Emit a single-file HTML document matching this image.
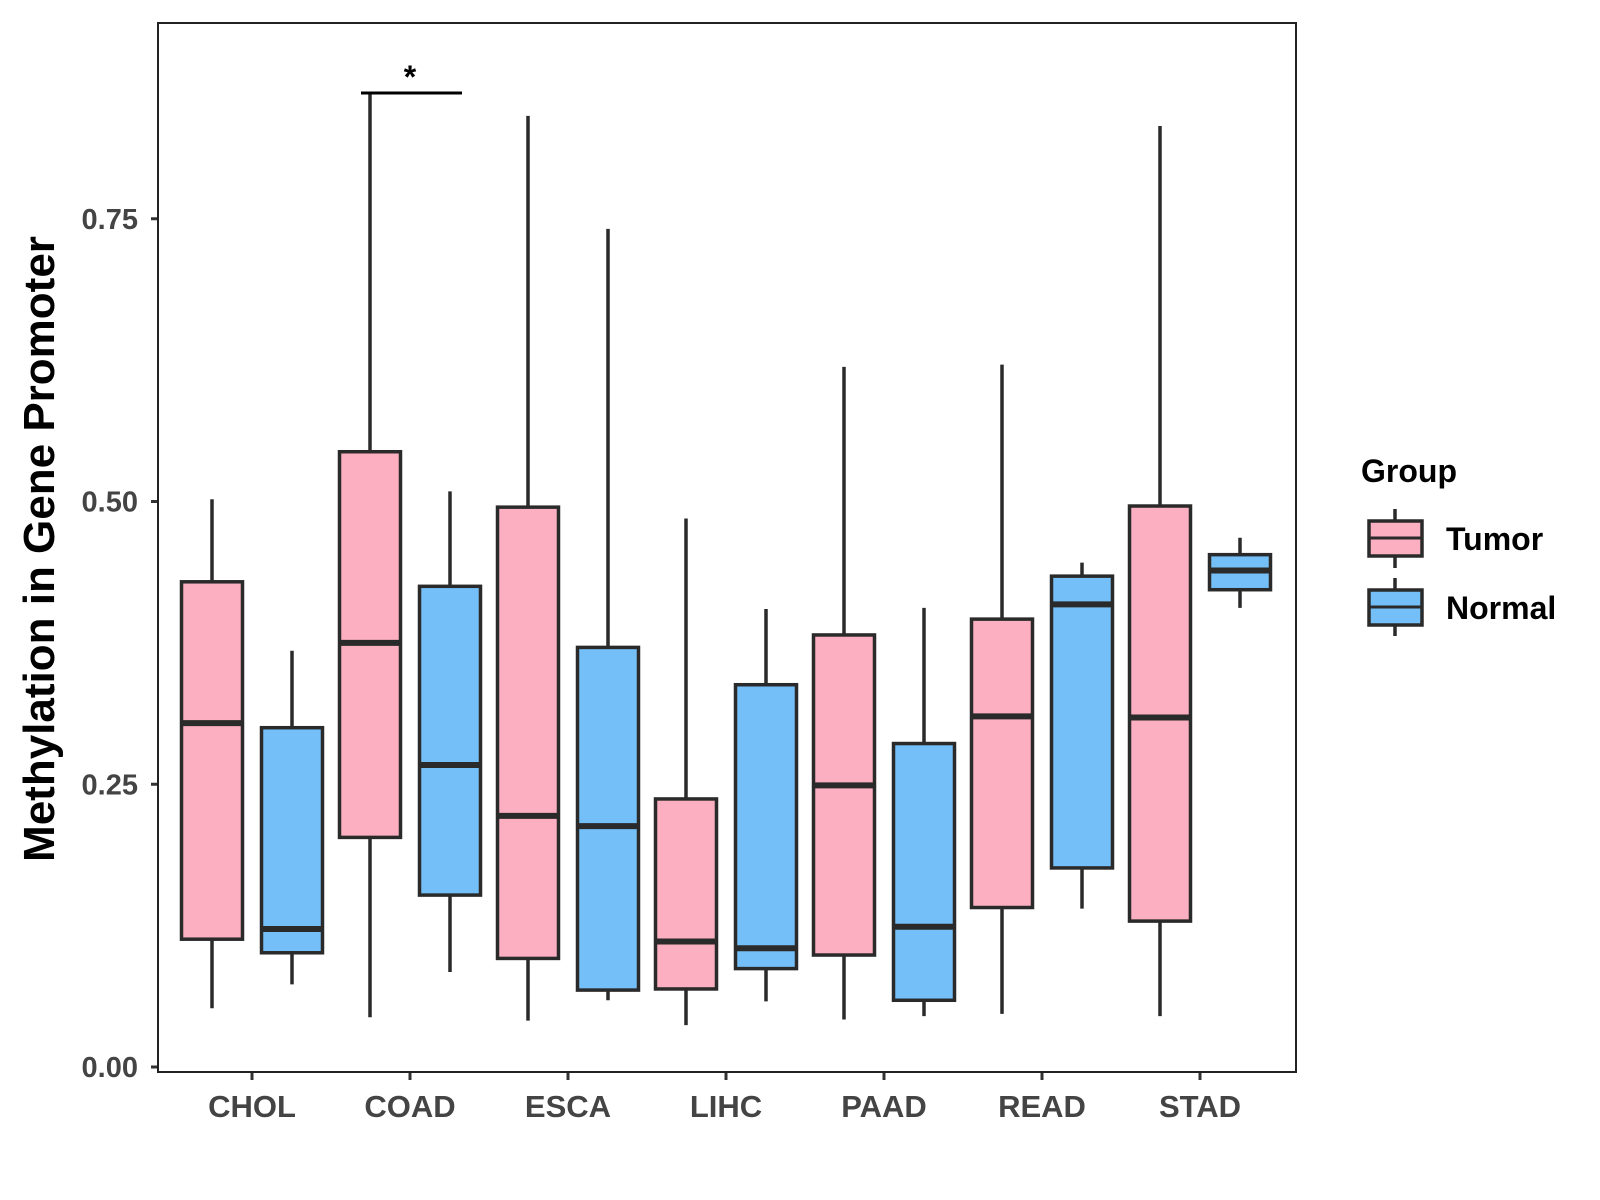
<!DOCTYPE html>
<html><head><meta charset="utf-8"><style>
html,body{margin:0;padding:0;background:#fff;}
svg{display:block;font-family:"Liberation Sans",Arial,sans-serif;}
</style></head><body>
<svg id="chart" width="1600" height="1200" viewBox="0 0 1600 1200">
<rect x="0" y="0" width="1600" height="1200" fill="#fff"/>
<g id="plot"></g>
<rect x="158" y="23" width="1138" height="1049" fill="none" stroke="#222" stroke-width="2"/>
<text transform="translate(54,549) rotate(-90)" text-anchor="middle" font-size="44" font-weight="bold" fill="#000">Methylation in Gene Promoter</text>
<g transform="translate(-7,0)">
<text x="1368" y="482" font-size="32" font-weight="bold" fill="#000">Group</text>
<g>
<line x1="1402" y1="509" x2="1402" y2="568" stroke="#2a2a2a" stroke-width="3.5"/>
<rect x="1376" y="521" width="53" height="35" fill="#FBAFC0" stroke="#2a2a2a" stroke-width="3.5"/>
<line x1="1376" y1="538" x2="1429" y2="538" stroke="#2a2a2a" stroke-width="3"/>
<text x="1453" y="550" font-size="32" font-weight="bold" fill="#000">Tumor</text>
</g>
<g>
<line x1="1402" y1="578" x2="1402" y2="636" stroke="#2a2a2a" stroke-width="3.5"/>
<rect x="1376" y="590" width="53" height="35" fill="#74BFF7" stroke="#2a2a2a" stroke-width="3.5"/>
<line x1="1376" y1="607" x2="1429" y2="607" stroke="#2a2a2a" stroke-width="3"/>
<text x="1453" y="619" font-size="32" font-weight="bold" fill="#000">Normal</text>
</g>
</g>
<g>
<line x1="361" y1="93" x2="462" y2="93" stroke="#000" stroke-width="3"/>
<text x="410" y="88" text-anchor="middle" font-size="32" font-weight="bold" fill="#000">*</text>
</g>
</svg>
<script>
const categories = ["CHOL","COAD","ESCA","LIHC","PAAD","READ","STAD"];
const yTicks = [0, 0.25, 0.5, 0.75];
const yTickLabels = ["0.00","0.25","0.50","0.75"];
// [lower whisker, q1, median, q3, upper whisker]
const tumorStats = [
  [0.052,0.113,0.304,0.429,0.502],
  [0.044,0.203,0.375,0.544,0.860],
  [0.041,0.096,0.222,0.495,0.841],
  [0.037,0.069,0.111,0.237,0.485],
  [0.042,0.099,0.249,0.382,0.619],
  [0.047,0.141,0.310,0.396,0.621],
  [0.045,0.129,0.309,0.496,0.832]
];
const normalStats = [
  [0.073,0.101,0.122,0.300,0.368],
  [0.084,0.152,0.267,0.425,0.509],
  [0.059,0.068,0.213,0.371,0.741],
  [0.058,0.087,0.105,0.338,0.405],
  [0.045,0.059,0.124,0.286,0.406],
  [0.140,0.176,0.409,0.434,0.446],
  [0.406,0.422,0.439,0.453,0.468]
];
const NS="http://www.w3.org/2000/svg";
const plot=document.getElementById('plot');
function y(v){return 1067-1131*v;}
function x(i){return 252+158*i;}
function mk(tag,attrs,parent){const e=document.createElementNS(NS,tag);for(const k in attrs)e.setAttribute(k,attrs[k]);(parent||plot).appendChild(e);return e;}
yTicks.forEach((t,i)=>{
  const g=mk('g',{});
  
  
  mk('line',{x1:151,x2:158,y1:y(t),y2:y(t),stroke:'#333','stroke-width':3},g);
  const tx=mk('text',{x:138,y:y(t)+10,'text-anchor':'end','font-size':29,'font-weight':'bold',fill:'#444'},g);
  tx.textContent=yTickLabels[i];
});
categories.forEach((c,i)=>{
  const g=mk('g',{});
  
  
  mk('line',{x1:x(i),x2:x(i),y1:1072,y2:1080,stroke:'#333','stroke-width':3},g);
  const tx=mk('text',{x:x(i),y:1117,'text-anchor':'middle','font-size':31,'font-weight':'bold',fill:'#444'},g);
  tx.textContent=c;
});
function drawBox(s,cx,fill,name){
  const g=mk('g',{});
  
  
  const w=61;
  mk('line',{x1:cx,x2:cx,y1:y(s[0]),y2:y(s[4]),stroke:'#2a2a2a','stroke-width':3.5},g);
  mk('rect',{x:cx-w/2,y:y(s[3]),width:w,height:y(s[1])-y(s[3]),fill:fill,stroke:'#2a2a2a','stroke-width':3.5},g);
  mk('line',{x1:cx-w/2,x2:cx+w/2,y1:y(s[2]),y2:y(s[2]),stroke:'#2a2a2a','stroke-width':6},g);
}
categories.forEach((c,i)=>{
  drawBox(tumorStats[i],x(i)-40,'#FBAFC0','box-tumor-'+c.toLowerCase());
  drawBox(normalStats[i],x(i)+40,'#74BFF7','box-normal-'+c.toLowerCase());
});
</script>
</body></html>
